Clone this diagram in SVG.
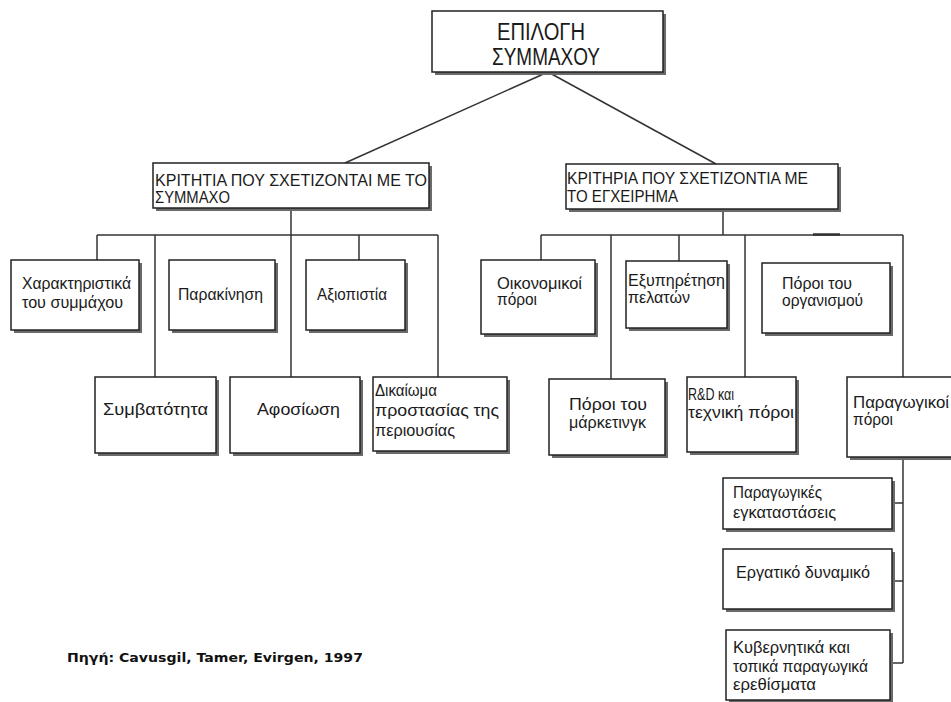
<svg xmlns="http://www.w3.org/2000/svg" width="951" height="702" viewBox="0 0 951 702">
<style>
.bg{fill:#ffffff}
.box{fill:#ffffff;stroke:#222;stroke-width:1.5}
.sh{fill:#6a6a6a}
.c{stroke:#333;stroke-width:1.5;fill:none}
.t{font-family:"Liberation Sans",Arial,sans-serif;font-size:16px;fill:#1a1a1a}
.tt{font-family:"Liberation Sans",Arial,sans-serif;font-size:23px;fill:#1a1a1a}
.src{font-family:"DejaVu Sans",Verdana,sans-serif;font-size:12px;font-weight:bold;fill:#111}
</style>
<rect class="bg" x="0" y="0" width="951" height="702"/>
<g id="connectors">
<line class="c" x1="548" y1="72" x2="345" y2="163"/>
<line class="c" x1="548" y1="72" x2="716" y2="164"/>
<line class="c" x1="291" y1="208" x2="291" y2="377"/>
<line class="c" x1="97" y1="235" x2="438" y2="235"/>
<line class="c" x1="97" y1="235" x2="97" y2="260"/>
<line class="c" x1="155" y1="235" x2="155" y2="377"/>
<line class="c" x1="359" y1="235" x2="359" y2="260"/>
<line class="c" x1="438" y1="235" x2="438" y2="377"/>
<line class="c" x1="723" y1="209" x2="723" y2="235"/>
<line class="c" x1="541" y1="235" x2="903" y2="235"/>
<line class="c" x1="813" y1="234.5" x2="840" y2="234.5" style="stroke-width:2.5"/>
<line class="c" x1="541" y1="235" x2="541" y2="260"/>
<line class="c" x1="611" y1="235" x2="611" y2="379"/>
<line class="c" x1="679" y1="235" x2="679" y2="261"/>
<line class="c" x1="745" y1="235" x2="745" y2="377"/>
<line class="c" x1="903" y1="235" x2="903" y2="377"/>
<line class="c" x1="903" y1="457" x2="903" y2="663"/>
<line class="c" x1="892" y1="503" x2="903" y2="503"/>
<line class="c" x1="892" y1="581" x2="903" y2="581"/>
<line class="c" x1="890" y1="663" x2="903" y2="663"/>
</g>
<g id="root">
<rect class="sh" x="435" y="14" width="231" height="61"/>
<rect class="box" x="432" y="11" width="231" height="61"/>
<text class="tt" x="497" y="40" textLength="88" lengthAdjust="spacingAndGlyphs">ΕΠΙΛΟΓΗ</text>
<text class="tt" x="492" y="65" textLength="108" lengthAdjust="spacingAndGlyphs">ΣΥΜΜΑΧΟΥ</text>
</g>
<g id="crit-partner">
<rect class="sh" x="156" y="166" width="276" height="45"/>
<rect class="box" x="153" y="163" width="276" height="45"/>
<text class="t" x="155" y="186" textLength="272" lengthAdjust="spacingAndGlyphs">ΚΡΙΤΗΤΙΑ ΠΟΥ ΣΧΕΤΙΖΟΝΤΑΙ ΜΕ ΤΟ</text>
<text class="t" x="155" y="203" textLength="75" lengthAdjust="spacingAndGlyphs">ΣΥΜΜΑΧΟ</text>
</g>
<g id="crit-venture">
<rect class="sh" x="569" y="167" width="272" height="45"/>
<rect class="box" x="566" y="164" width="272" height="45"/>
<text class="t" x="567" y="184" textLength="241" lengthAdjust="spacingAndGlyphs">ΚΡΙΤΗΡΙΑ ΠΟΥ ΣΧΕΤΙΖΟΝΤΙΑ ΜΕ</text>
<text class="t" x="567" y="202" textLength="111" lengthAdjust="spacingAndGlyphs">ΤΟ ΕΓΧΕΙΡΗΜΑ</text>
</g>
<g id="n-xarakt">
<rect class="sh" x="14" y="263" width="128" height="70"/>
<rect class="box" x="11" y="260" width="128" height="70"/>
<text class="t" x="22" y="289" textLength="109" lengthAdjust="spacingAndGlyphs">Χαρακτηριστικά</text>
<text class="t" x="22" y="308" textLength="101" lengthAdjust="spacingAndGlyphs">του συμμάχου</text>
</g>
<g id="n-parakinisi">
<rect class="sh" x="172" y="263" width="106" height="70"/>
<rect class="box" x="169" y="260" width="106" height="70"/>
<text class="t" x="178" y="300" textLength="85" lengthAdjust="spacingAndGlyphs">Παρακίνηση</text>
</g>
<g id="n-axiopistia">
<rect class="sh" x="309" y="263" width="99" height="70"/>
<rect class="box" x="306" y="260" width="99" height="70"/>
<text class="t" x="317" y="300" textLength="70" lengthAdjust="spacingAndGlyphs">Αξιοπιστία</text>
</g>
<g id="n-oikonomikoi">
<rect class="sh" x="484" y="263" width="114" height="74"/>
<rect class="box" x="481" y="260" width="114" height="74"/>
<text class="t" x="497" y="289" textLength="85" lengthAdjust="spacingAndGlyphs">Οικονομικοί</text>
<text class="t" x="497" y="305" textLength="40" lengthAdjust="spacingAndGlyphs">πόροι</text>
</g>
<g id="n-exyp">
<rect class="sh" x="629" y="264" width="101" height="67"/>
<rect class="box" x="626" y="261" width="101" height="67"/>
<text class="t" x="628" y="286" textLength="97" lengthAdjust="spacingAndGlyphs">Εξυπηρέτηση</text>
<text class="t" x="628" y="303" textLength="62" lengthAdjust="spacingAndGlyphs">πελατών</text>
</g>
<g id="n-poroi-org">
<rect class="sh" x="765" y="266" width="128" height="70"/>
<rect class="box" x="762" y="263" width="128" height="70"/>
<text class="t" x="782" y="289" textLength="70" lengthAdjust="spacingAndGlyphs">Πόροι του</text>
<text class="t" x="782" y="306" textLength="81" lengthAdjust="spacingAndGlyphs">οργανισμού</text>
</g>
<g id="n-symvatotita">
<rect class="sh" x="98" y="380" width="121" height="76"/>
<rect class="box" x="95" y="377" width="121" height="76"/>
<text class="t" x="103" y="415" textLength="105" lengthAdjust="spacingAndGlyphs">Συμβατότητα</text>
</g>
<g id="n-afosiosi">
<rect class="sh" x="233" y="380" width="130" height="76"/>
<rect class="box" x="230" y="377" width="130" height="76"/>
<text class="t" x="257" y="415" textLength="83" lengthAdjust="spacingAndGlyphs">Αφοσίωση</text>
</g>
<g id="n-dikaioma">
<rect class="sh" x="376" y="380" width="134" height="74"/>
<rect class="box" x="373" y="377" width="134" height="74"/>
<text class="t" x="375" y="396" textLength="62" lengthAdjust="spacingAndGlyphs">Δικαίωμα</text>
<text class="t" x="375" y="416" textLength="124" lengthAdjust="spacingAndGlyphs">προστασίας της</text>
<text class="t" x="375" y="436" textLength="80" lengthAdjust="spacingAndGlyphs">περιουσίας</text>
</g>
<g id="n-marketing">
<rect class="sh" x="552" y="382" width="116" height="76"/>
<rect class="box" x="549" y="379" width="116" height="76"/>
<text class="t" x="569" y="410" textLength="78" lengthAdjust="spacingAndGlyphs">Πόροι του</text>
<text class="t" x="569" y="428" textLength="77" lengthAdjust="spacingAndGlyphs">μάρκετινγκ</text>
</g>
<g id="n-rd">
<rect class="sh" x="690" y="380" width="109" height="75"/>
<rect class="box" x="687" y="377" width="109" height="75"/>
<text class="t" x="688" y="400" textLength="46" lengthAdjust="spacingAndGlyphs">R&amp;D και</text>
<text class="t" x="688" y="418" textLength="106" lengthAdjust="spacingAndGlyphs">τεχνική πόροι</text>
</g>
<g id="n-paragogikoi">
<rect class="sh" x="850" y="380" width="110" height="80"/>
<rect class="box" x="847" y="377" width="110" height="80"/>
<text class="t" x="853" y="408" textLength="96" lengthAdjust="spacingAndGlyphs">Παραγωγικοί</text>
<text class="t" x="853" y="425" textLength="40" lengthAdjust="spacingAndGlyphs">πόροι</text>
</g>
<g id="n-egkatastaseis">
<rect class="sh" x="726" y="481" width="169" height="51"/>
<rect class="box" x="723" y="478" width="169" height="51"/>
<text class="t" x="733" y="498" textLength="89" lengthAdjust="spacingAndGlyphs">Παραγωγικές</text>
<text class="t" x="733" y="518" textLength="103" lengthAdjust="spacingAndGlyphs">εγκαταστάσεις</text>
</g>
<g id="n-ergatiko">
<rect class="sh" x="726" y="552" width="169" height="60"/>
<rect class="box" x="723" y="549" width="169" height="60"/>
<text class="t" x="736" y="578" textLength="134" lengthAdjust="spacingAndGlyphs">Εργατικό δυναμικό</text>
</g>
<g id="n-kyvernitika">
<rect class="sh" x="729" y="633" width="164" height="70"/>
<rect class="box" x="726" y="630" width="164" height="70"/>
<text class="t" x="733" y="653" textLength="117" lengthAdjust="spacingAndGlyphs">Κυβερνητικά και</text>
<text class="t" x="733" y="672" textLength="135" lengthAdjust="spacingAndGlyphs">τοπικά παραγωγικά</text>
<text class="t" x="733" y="690" textLength="83" lengthAdjust="spacingAndGlyphs">ερεθίσματα</text>
</g>
<g id="source">
<text class="src" x="67" y="662" textLength="296" lengthAdjust="spacingAndGlyphs">Πηγή: Cavusgil, Tamer, Evirgen, 1997</text>
</g>
</svg>
